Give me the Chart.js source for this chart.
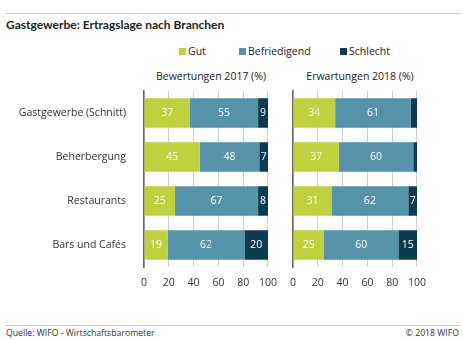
<!DOCTYPE html>
<html>
<head>
<meta charset="utf-8">
<script src="https://cdn.jsdelivr.net/npm/chart.js@4"></script>
<style>
  body { margin: 0; background: #fff; font-family: "Open Sans", sans-serif; color: #222; }
  #page { position: relative; width: 463px; height: 340px; overflow: hidden; }
  .abs { position: absolute; white-space: nowrap; }
  .line { position: absolute; left: 5px; width: 455px; height: 1px; background: #c8c8c8; }
  .sq { display: inline-block; width: 7px; height: 7px; margin-right: 2px; vertical-align: 0px; }
  canvas { position: absolute; }
</style>
</head>
<body>
<div id="page">
  <div class="line" style="top:13px"></div>
  <div class="abs" style="left:6px; top:17px; font-family:Lato; font-size:12px; font-weight:bold;">Gastgewerbe: Ertragslage nach Branchen</div>
  <div id="legend"></div>
  <div class="abs" style="left:151px; top:69px; width:120px; text-align:center; font-size:10.5px;">Bewertungen 2017 (%)</div>
  <div class="abs" style="left:300px; top:69px; width:120px; text-align:center; font-size:10.5px;">Erwartungen 2018 (%)</div>
  <canvas id="left" width="287" height="215" style="left:0; top:85px;"></canvas>
  <canvas id="right" width="166" height="215" style="left:270px; top:85px;"></canvas>
  <div class="line" style="top:325px"></div>
  <div class="abs" style="left:6px; top:327px; font-size:8.7px; color:#333;">Quelle: WIFO - Wirtschaftsbarometer</div>
  <div class="abs" style="right:4px; top:327px; font-size:8.7px; color:#333;">© 2018 WIFO</div>
</div>
<script>
const categories = ['Gastgewerbe (Schnitt)', 'Beherbergung', 'Restaurants', 'Bars und Cafés'];
const seriesNames = ['Gut', 'Befriedigend', 'Schlecht'];
const colors = ['#bfd13c', '#5593aa', '#0b3b50'];

const gut2017 = [37, 45, 25, 19];
const befriedigend2017 = [55, 48, 67, 62];
const schlecht2017 = [9, 7, 8, 20];

const gut2018 = [34, 37, 31, 25];
const befriedigend2018 = [61, 60, 62, 60];
const schlecht2018 = [5, 3, 7, 15];

const xTicks = [0, 20, 40, 60, 80, 100];

// legend
const legendPos = [179, 239, 340];
document.getElementById('legend').innerHTML = seriesNames.map((name, i) =>
  `<div class="abs" style="left:${legendPos[i]}px; top:44px; font-size:10.5px;"><span class="sq" style="background:${colors[i]}"></span>${name}</div>`
).join('');

// white value labels inside the segments (tiny ones are left out, like the original)
const segmentLabels = {
  id: 'segmentLabels',
  afterDatasetsDraw(chart) {
    const ctx = chart.ctx;
    ctx.save();
    ctx.font = '10.5px "Open Sans"';
    ctx.fillStyle = '#fff';
    ctx.textAlign = 'center';
    ctx.textBaseline = 'middle';
    chart.data.datasets.forEach((ds, di) => {
      chart.getDatasetMeta(di).data.forEach((bar, i) => {
        const v = ds.data[i];
        if (v < 6) return;
        const right = Math.min(bar.x, chart.chartArea.right);
        ctx.fillText(v, (bar.base + right) / 2, bar.y + 0.5);
      });
    });
    ctx.restore();
  }
};

function makeChart(id, data, showLabels) {
  return new Chart(document.getElementById(id), {
    type: 'bar',
    data: {
      labels: categories,
      datasets: data.map((d, i) => ({
        label: seriesNames[i],
        data: d,
        backgroundColor: colors[i],
        barPercentage: 0.67,
        categoryPercentage: 1
      }))
    },
    options: {
      indexAxis: 'y',
      responsive: false,
      animation: false,
      layout: { padding: { top: 6, right: 0, left: 0, bottom: 0 } },
      plugins: { legend: { display: false }, tooltip: { enabled: false } },
      scales: {
        x: {
          stacked: true,
          min: 0,
          max: 100,
          afterBuildTicks: s => { s.ticks = xTicks.map(v => ({ value: v })); },
          grid: { color: '#cfcfcf', drawTicks: false, lineWidth: 1 },
          border: { display: false },
          ticks: { padding: 10, color: '#333', font: { family: 'Open Sans', size: 10.5 } },
          afterFit: s => { s.height = 33; }
        },
        y: {
          stacked: true,
          grid: { display: false, drawTicks: false },
          border: { display: true, color: '#666', width: 1.5 },
          ticks: { display: showLabels, padding: 18, color: '#333', font: { family: 'Open Sans', size: 10.5 } },
          afterFit: s => {
            s.width = showLabels ? 144 : 23;
            s.paddingTop = 0;
            s.paddingBottom = 0;
          }
        }
      }
    },
    plugins: [segmentLabels]
  });
}

makeChart('left', [gut2017, befriedigend2017, schlecht2017], true);
makeChart('right', [gut2018, befriedigend2018, schlecht2018], false);
</script>
</body>
</html>
